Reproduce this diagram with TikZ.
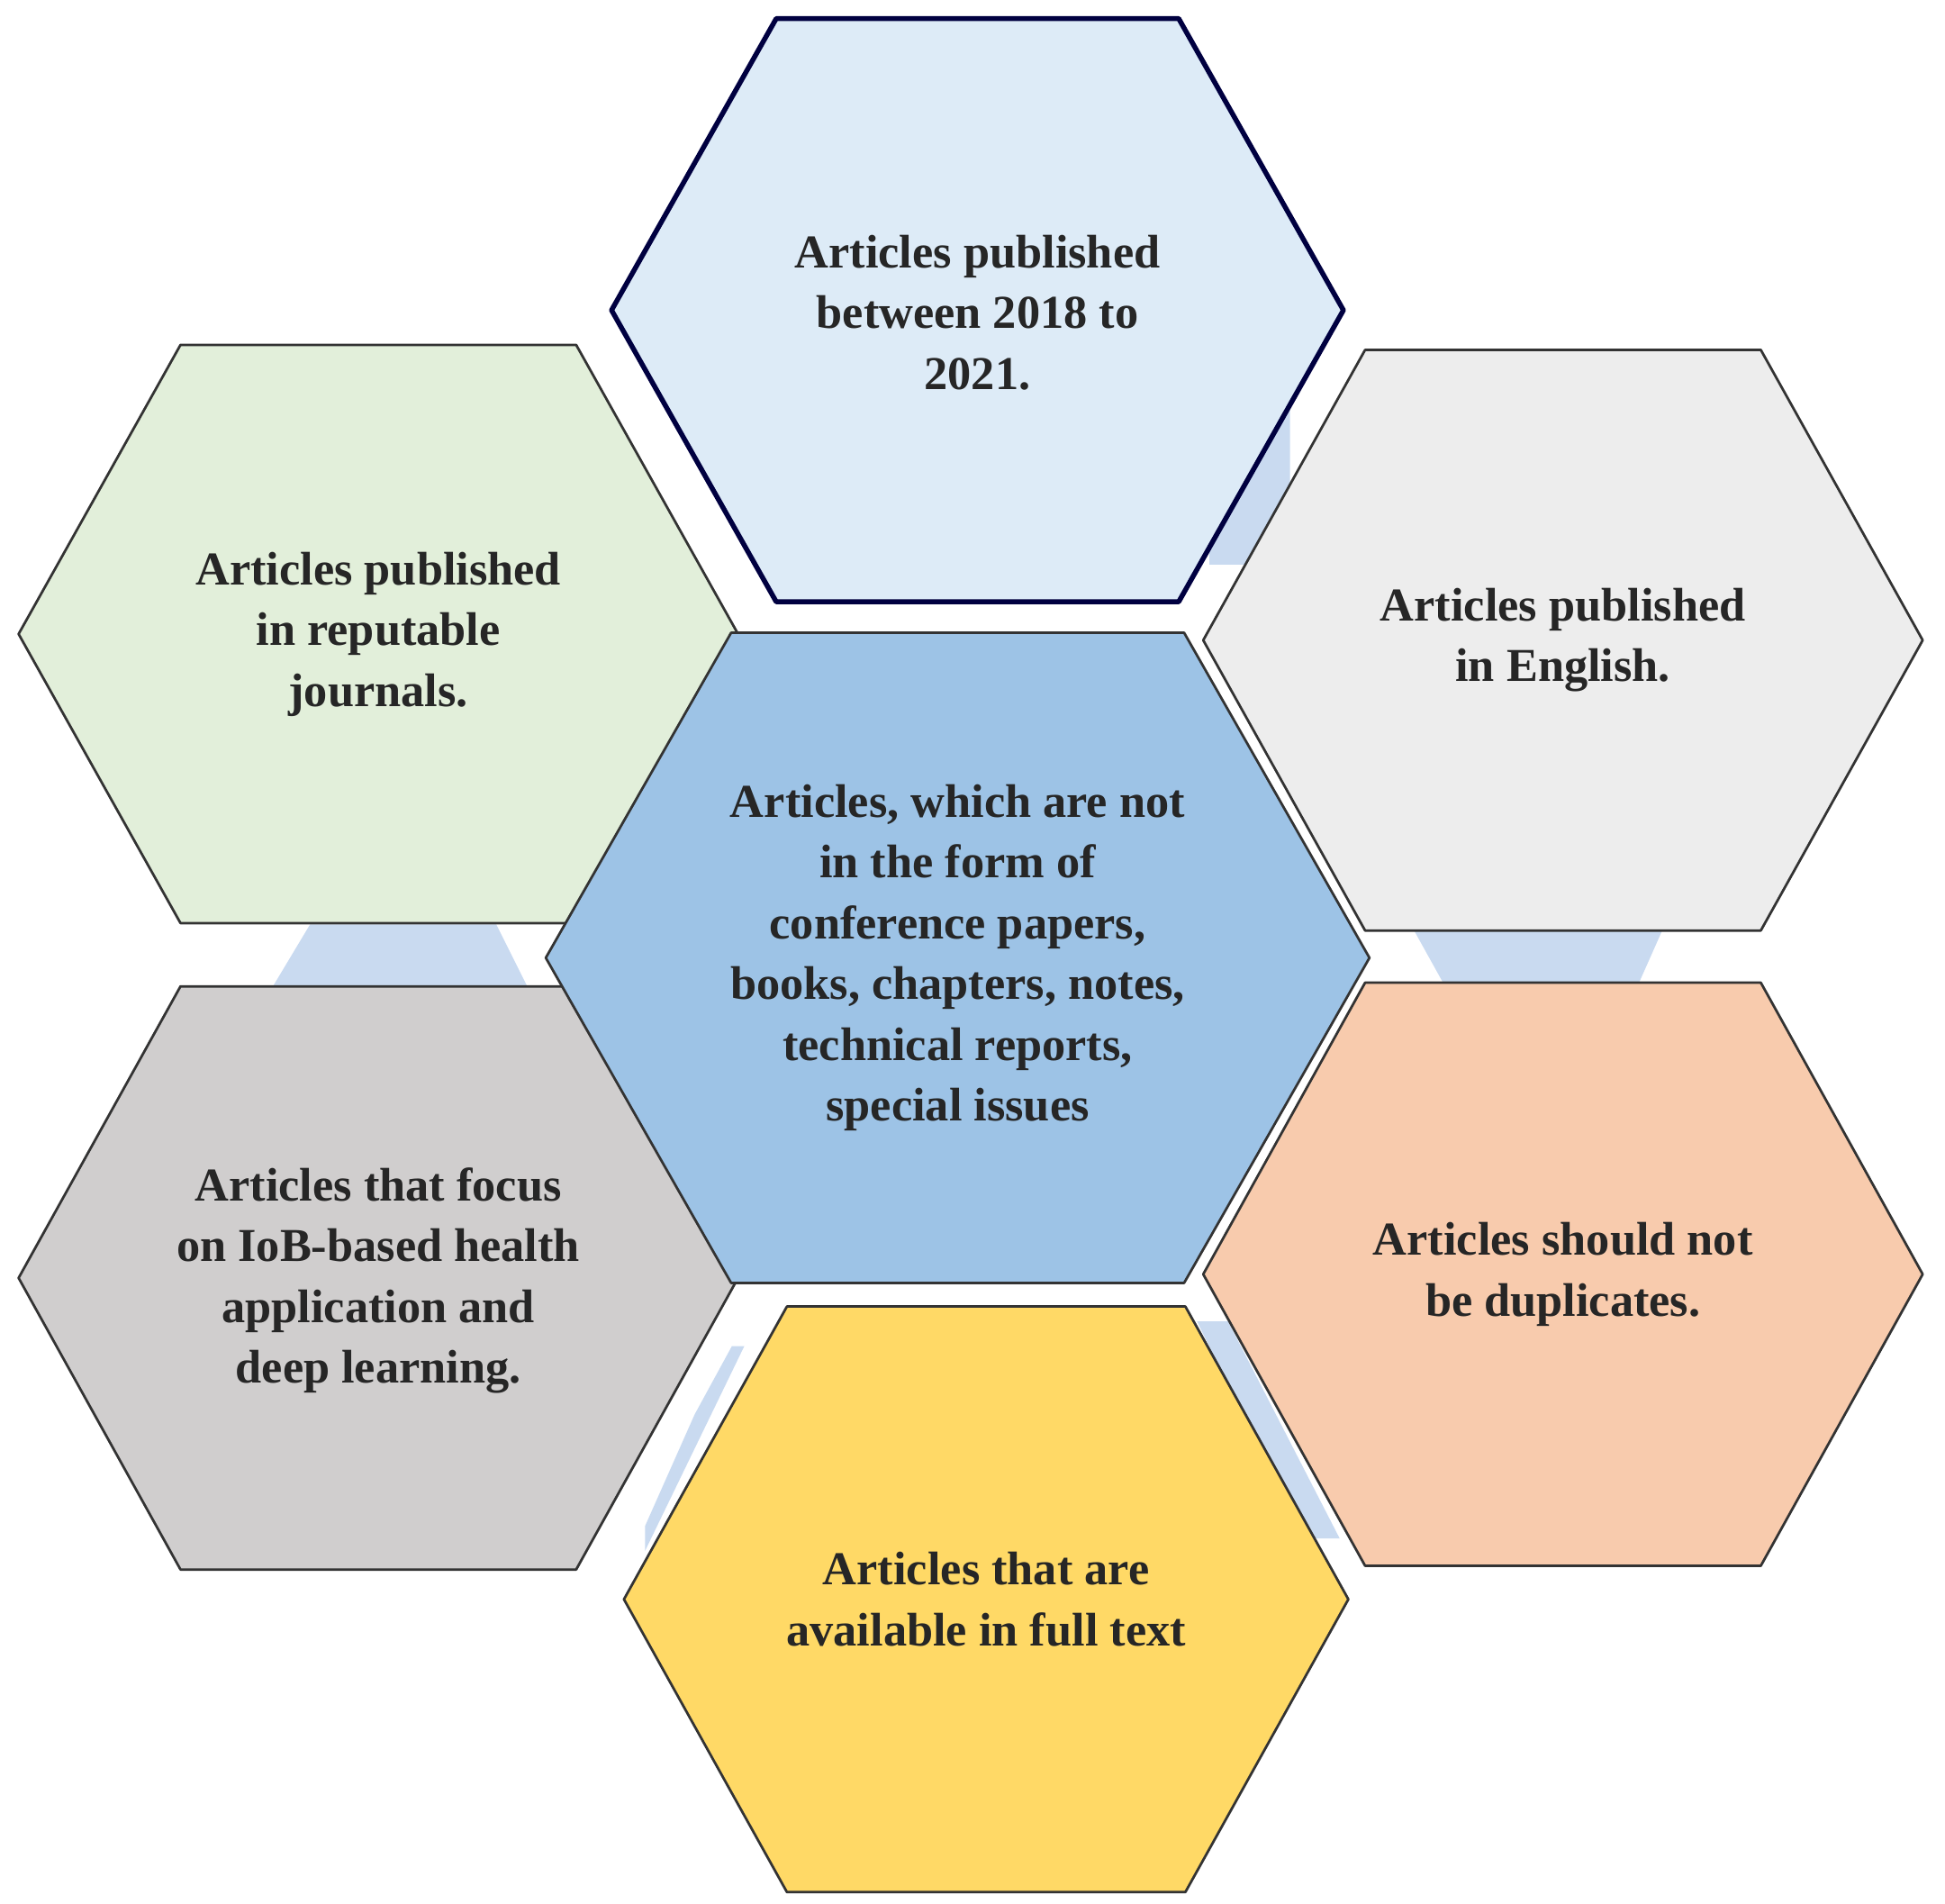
\documentclass[tikz,border=0pt]{standalone}
\usepackage{fontspec}
\setmainfont{Liberation Serif}
\begin{document}
\begin{tikzpicture}[x=1pt,y=-1pt,
  hextext/.style={font=\fontsize{38}{49}\selectfont\bfseries,align=center,text=black!85}]
\useasboundingbox (0,0) rectangle (1568,1534);
\newcommand\hexa[6]{% cx cy hw hh fill drawopts
  \pgfmathsetmacro\ins{0.45*#3}
  \filldraw[fill=#5,#6,line join=round]
    (#1-#3,#2) -- (#1-#3+\ins,#2-#4) -- (#1+#3-\ins,#2-#4) -- (#1+#3,#2)
    -- (#1+#3-\ins,#2+#4) -- (#1-#3+\ins,#2+#4) -- cycle;}
\definecolor{bgblue}{HTML}{C9DAF0}
\definecolor{topblue}{HTML}{DDEBF7}
\definecolor{midblue}{HTML}{9DC3E6}
\definecolor{lgreen}{HTML}{E2EFDA}
\definecolor{lgrey}{HTML}{EDEDED}
\definecolor{mgrey}{HTML}{D0CECE}
\definecolor{peach}{HTML}{F8CBAD}
\definecolor{gold}{HTML}{FFD966}
% faint background pieces
\fill[bgblue] (220,795) -- (250,745) -- (400,745) -- (425,795) -- cycle;
\fill[bgblue] (1140,750) -- (1340,750) -- (1320,795) -- (1165,795) -- cycle;
\fill[bgblue] (975,420) -- (1020,330) -- (1040,330) -- (1040,455) -- (975,455) -- cycle;
\fill[bgblue] (520,1230) -- (560,1140) -- (590,1085) -- (600,1085) -- (520,1250) -- cycle;
\fill[bgblue] (965,1065) -- (990,1065) -- (1080,1240) -- (1050,1240) -- cycle;
\hexa{305}{511}{290}{233}{lgreen}{draw=black!80,line width=2pt}
\hexa{1260}{516}{290}{234}{lgrey}{draw=black!80,line width=2pt}
\hexa{305}{1030}{290}{235}{mgrey}{draw=black!80,line width=2pt}
\hexa{1260}{1027}{290}{235}{peach}{draw=black!80,line width=2pt}
\hexa{795}{1289}{292}{236}{gold}{draw=black!80,line width=2pt}
\hexa{788}{250}{295}{235}{topblue}{draw=blue!25!black,line width=4pt}
\hexa{772}{772}{332}{262}{midblue}{draw=black!80,line width=2pt}
\node[hextext] (t) at (788,252) {Articles published\\between 2018 to\\2021.};
\node[hextext] (lt) at (305,511) {Articles published\\in reputable\\journals.};
\node[hextext] (rt) at (1260,516) {Articles published\\in English.};
\node[hextext] (c) at (772,772) {Articles, which are not\\in the form of\\conference papers,\\books, chapters, notes,\\technical reports,\\special issues};
\node[hextext] (lb) at (305,1032) {Articles that focus\\on IoB-based health\\application and\\deep learning.};
\node[hextext] (rb) at (1260,1027) {Articles should not\\be duplicates.};
\node[hextext] (b) at (795,1289) {Articles that are\\available in full text};
\end{tikzpicture}
\end{document}
